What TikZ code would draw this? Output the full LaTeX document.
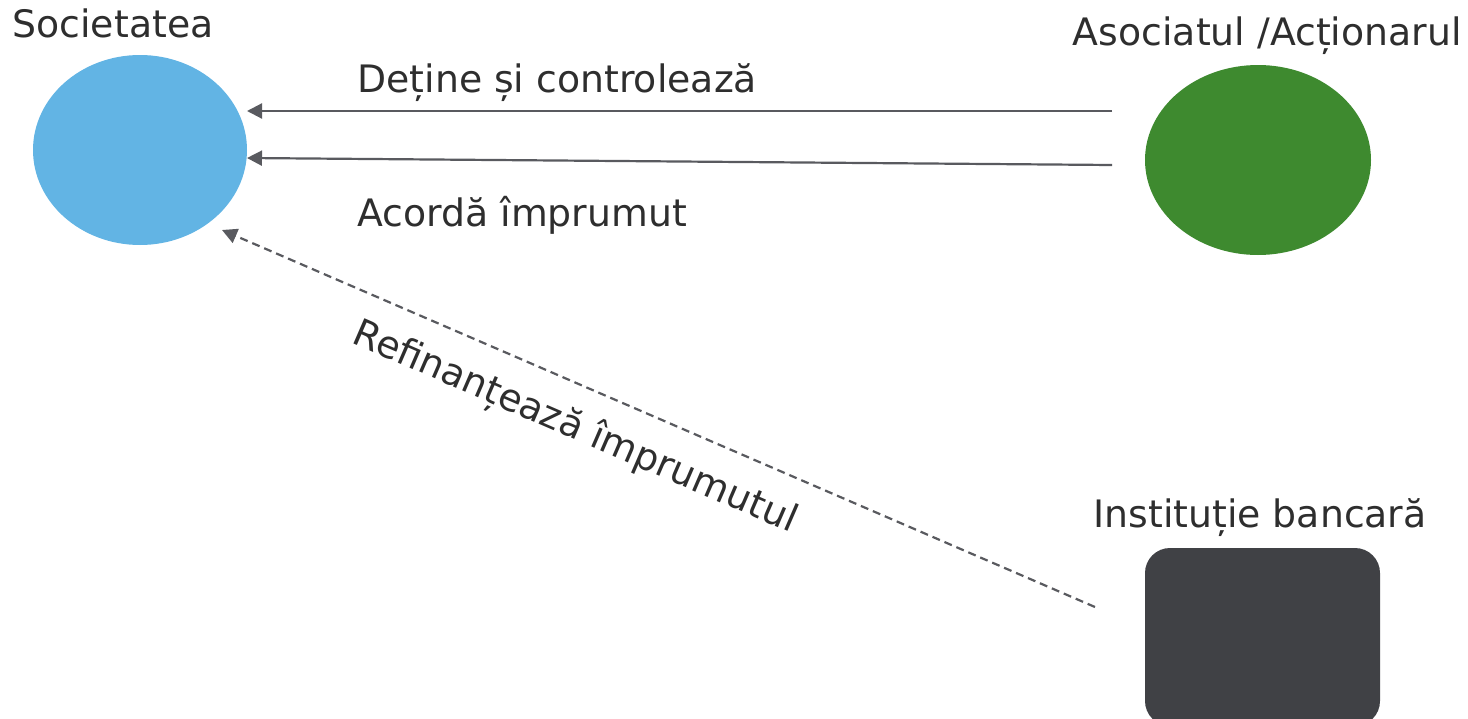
\documentclass[tikz,border=0pt]{standalone}
\usepackage{fontspec}
\setmainfont{DejaVu Sans}
\usetikzlibrary{shapes.geometric,arrows.meta}
\definecolor{blueC}{HTML}{62B4E4}
\definecolor{greenC}{HTML}{3E8A2F}
\definecolor{darkC}{HTML}{404145}
\definecolor{lineC}{HTML}{595A5F}
\definecolor{txtC}{HTML}{2E2E2E}
\tikzset{
  lbl/.style={font=\fontsize{18.9pt}{22pt}\selectfont, text=txtC, inner sep=0pt},
  conn/.style={draw=lineC, line width=1.1pt, -{Triangle[length=7.5pt,width=7.5pt]}},
  dconn/.style={conn, dash pattern=on 4pt off 2.5pt},
}
\begin{document}
\begin{tikzpicture}[x=0.5pt,y=-0.5pt]
\useasboundingbox (0,0) rectangle (1468,718);
\node[ellipse, fill=blueC, minimum width=107pt, minimum height=95pt, inner sep=0pt] (soc) at (140,150) {};
\node[ellipse, fill=greenC, minimum width=113pt, minimum height=95pt, inner sep=0pt] (asoc) at (1258,160) {};
\node[rectangle, rounded corners=12.5pt, fill=darkC, minimum width=117.5pt, minimum height=89pt, inner sep=0pt] (bank) at (1262.5,637) {};
\node[lbl, anchor=base] (socl) at (113,37) {Societatea};
\node[lbl, anchor=base east] (asocl) at (1462,45) {Asociatul /Acționarul};
\node[lbl, anchor=base west] (bankl) at (1093,527) {Instituție bancară};
\coordinate (a1s) at (1112,111);
\coordinate (a1e) at (247,111);
\coordinate (a2s) at (1112,165);
\coordinate (a2e) at (247,158);
\coordinate (a3s) at (1095,607);
\coordinate (a3e) at (222,230);
\draw[conn] (a1s) -- (a1e);
\draw[conn] (a2s) -- (a2e);
\draw[dconn] (a3s) -- (a3e);
\node[lbl, anchor=base west] (l1) at (357,92) {Deține și controlează};
\node[lbl, anchor=base west] (l2) at (357,226) {Acordă împrumut};
\node[lbl, rotate=-23.4] (l3) at (575,428) {Refinanțează împrumutul};
\end{tikzpicture}
\end{document}
